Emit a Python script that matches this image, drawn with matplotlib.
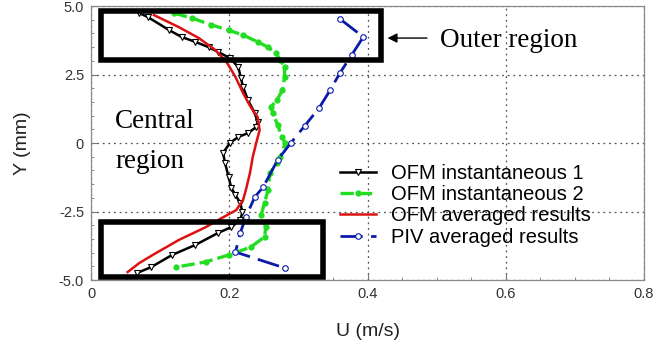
import matplotlib
matplotlib.use("Agg")
import matplotlib.pyplot as plt
from matplotlib.patches import Rectangle
from matplotlib.ticker import MultipleLocator

# OFM instantaneous profile 1
ofm1_u = [0.070, 0.082, 0.113, 0.131, 0.151, 0.170, 0.184, 0.201, 0.213, 0.217, 0.220,
          0.227, 0.237, 0.241, 0.239, 0.227, 0.213, 0.201, 0.191, 0.194, 0.199, 0.203,
          0.209, 0.216, 0.219, 0.216, 0.203, 0.184, 0.151, 0.117, 0.087, 0.067]
ofm1_y = [4.74, 4.60, 4.12, 3.87, 3.69, 3.50, 3.32, 3.10, 2.77, 2.37, 2.04,
          1.57, 1.09, 0.77, 0.58, 0.36, 0.22, 0.00, -0.36, -0.73, -1.24, -1.64,
          -1.90, -2.19, -2.52, -2.81, -3.07, -3.28, -3.72, -4.09, -4.53, -4.74]

# OFM instantaneous profile 2
ofm2_u = [0.120, 0.146, 0.174, 0.199, 0.220, 0.241, 0.256, 0.267, 0.274, 0.280, 0.280,
          0.277, 0.269, 0.260, 0.263, 0.270, 0.276, 0.281, 0.274, 0.269, 0.259, 0.256,
          0.251, 0.246, 0.253, 0.251, 0.231, 0.199, 0.166, 0.123]
ofm2_y = [4.74, 4.56, 4.31, 4.12, 3.94, 3.69, 3.50, 3.28, 3.03, 2.77, 2.41,
          1.93, 1.57, 1.31, 1.09, 0.66, 0.22, 0.00, -0.51, -0.73, -1.09, -1.72,
          -2.19, -2.63, -3.07, -3.43, -3.80, -4.09, -4.34, -4.53]

# OFM time-averaged profile
avg_u = [0.091, 0.127, 0.156, 0.180, 0.196, 0.209, 0.220, 0.231, 0.241, 0.244, 0.239,
         0.234, 0.230, 0.224, 0.220, 0.210, 0.189, 0.166, 0.127, 0.089, 0.070, 0.053]
avg_y = [4.67, 4.23, 3.83, 3.39, 2.96, 2.41, 1.82, 1.31, 0.95, 0.47, 0.00,
         -0.51, -1.09, -1.72, -2.08, -2.45, -2.74, -3.07, -3.54, -4.09, -4.38, -4.71]

# PIV time-averaged profile
piv_u = [0.360, 0.394, 0.377, 0.360, 0.346, 0.330, 0.309, 0.289, 0.270, 0.249,
         0.237, 0.224, 0.216, 0.209, 0.280]
piv_y = [4.53, 3.87, 3.21, 2.55, 1.93, 1.28, 0.62, 0.00, -0.62, -1.61,
         -1.97, -2.70, -3.28, -3.98, -4.56]

series_labels = ["OFM instantaneous 1", "OFM instantaneous 2",
                 "OFM averaged results", "PIV averaged results"]
x_ticks = [0, 0.2, 0.4, 0.6, 0.8]
x_ticklabels = ["0", "0.2", "0.4", "0.6", "0.8"]
y_ticks = [-5.0, -2.5, 0, 2.5, 5.0]
y_ticklabels = ["-5.0", "-2.5", "0", "2.5", "5.0"]

plt.rcParams["font.family"] = ["Liberation Sans", "DejaVu Sans"]

fig = plt.figure(figsize=(6.55, 3.5), dpi=100)
ax = fig.add_axes([91 / 655, 1 - 280 / 350, 553 / 655, 274 / 350])

ax.plot(ofm1_u, ofm1_y, color="black", lw=1.8, marker="v", ms=4.5,
        mfc="white", mec="black", mew=0.8, label=series_labels[0], zorder=4)
ax.plot(ofm2_u, ofm2_y, color="#22dd22", lw=2.4, ls=(0, (4, 1.5)), marker="o",
        ms=3.5, mfc="#22dd22", mec="#22dd22", label=series_labels[1], zorder=3)
ax.plot(avg_u, avg_y, color="#dd1111", lw=1.8, label=series_labels[2], zorder=5)
ax.plot(piv_u, piv_y, color="#0a1aaa", lw=2.0, ls=(0, (8, 3)), marker="o",
        ms=4, mfc="white", mec="#0a1aaa", mew=0.8, label=series_labels[3], zorder=3)

# Highlighted outer regions
ax.add_patch(Rectangle((0.014, 3.03), 0.405, 1.79, fill=False, lw=4,
                       edgecolor="black", zorder=6))
ax.add_patch(Rectangle((0.014, -4.89), 0.322, 2.01, fill=False, lw=4,
                       edgecolor="black", zorder=6))

ax.annotate("", xy=(0.425, 3.83), xytext=(0.49, 3.83),
            arrowprops=dict(arrowstyle="-|>", color="black", lw=1.0,
                            mutation_scale=14), zorder=7)
ax.text(0.505, 3.50, "Outer region", family="Liberation Serif", fontsize=19.5,
        va="baseline", ha="left")
ax.text(0.035, 0.55, "Central", family="Liberation Serif", fontsize=19.5,
        va="baseline", ha="left")
ax.text(0.035, -0.91, "region", family="Liberation Serif", fontsize=19.5,
        va="baseline", ha="left")

ax.set_xlim(0, 0.8)
ax.set_ylim(-5, 5)
ax.set_xticks(x_ticks)
ax.set_xticklabels(x_ticklabels)
ax.set_yticks(y_ticks)
ax.set_yticklabels(y_ticklabels)
ax.xaxis.set_minor_locator(MultipleLocator(0.05))
ax.yaxis.set_minor_locator(MultipleLocator(0.5))
ax.tick_params(which="both", direction="in", colors="#777777", labelcolor="#333333",
               labelsize=10.5, top=False, right=False)
ax.tick_params(which="major", length=4, pad=5)
ax.tick_params(which="minor", length=2)
ax.grid(True, which="major", ls=(0, (1.5, 3)), color="#555555", lw=0.9)
for s in ax.spines.values():
    s.set_color("#888888")
    s.set_linewidth(0.9)

ax.set_xlabel("U (m/s)", fontsize=14, color="#222222", labelpad=16)
ax.set_ylabel("Y (mm)", fontsize=14, color="#222222", labelpad=20)

leg = ax.legend(loc="upper left", bbox_to_anchor=(0.45, 0.425), frameon=False,
                fontsize=14.5, handlelength=1.8, handletextpad=0.75,
                labelspacing=0.12, borderpad=0.0, borderaxespad=0.0)

fig.savefig("out.png", dpi=100)
